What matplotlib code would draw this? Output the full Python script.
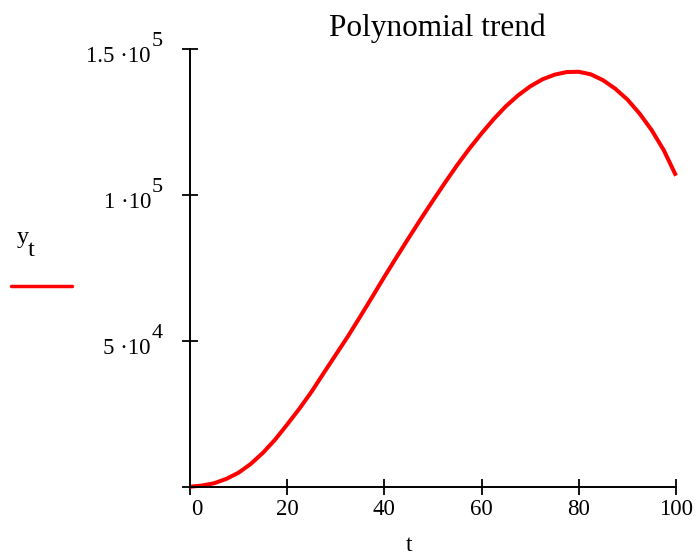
import matplotlib
matplotlib.use("Agg")
import matplotlib.pyplot as plt
from matplotlib.lines import Line2D
import matplotlib.transforms as mtransforms

plt.rcParams['font.family'] = ['Liberation Serif', 'DejaVu Serif']

t_values = [0, 2.5, 5, 7.5, 10, 12.5, 15, 17.5, 20, 22.5, 25, 27.5, 30, 32.5, 35, 37.5, 40,
            42.5, 45, 47.5, 50, 52.5, 55, 57.5, 60, 62.5, 65, 67.5, 70, 72.5, 75, 77.5, 80,
            82.5, 85, 87.5, 90, 92.5, 95, 97.5, 100]
y_values = [0, 400, 1200, 2700, 4800, 7800, 11600, 16100, 21300, 26700, 32500, 38900, 45200,
            51500, 58200, 65000, 71900, 78600, 85200, 91700, 98000, 104200, 110200, 115800,
            121000, 125900, 130300, 134000, 137100, 139500, 141100, 142000, 142100, 141200,
            139200, 136300, 132600, 127800, 122100, 115200, 106500]
x_ticks = [0, 20, 40, 60, 80, 100]
x_tick_labels = ['0', '20', '40', '60', '80', '100']
y_ticks = [0, 50000, 100000, 150000]
y_label_mantissa = ['', '5 \u00b710', '1 \u00b710', '1.5 \u00b710']
y_label_exponent = ['', '4', '5', '5']

W, H = 699, 557
fig = plt.figure(figsize=(W / 100, H / 100), dpi=100)
ax = fig.add_axes([190 / W, (H - 486.7) / H, (676 - 190) / W, 438 / H])

ax.plot(t_values, y_values, color='#ff0000', lw=2.9, solid_capstyle='butt', clip_on=False)
ax.set_xlim(0, 100)
ax.set_ylim(0, 150000)

for s in ['top', 'right']:
    ax.spines[s].set_visible(False)
for s in ['left', 'bottom']:
    ax.spines[s].set_linewidth(1.4)

ax.set_xticks(x_ticks)
ax.set_xticklabels(x_tick_labels)
ax.set_yticks(y_ticks)
ax.set_yticklabels([''] * len(y_ticks))
ax.tick_params(axis='both', direction='inout', length=12, width=1.3, labelsize=16.5)
ax.tick_params(axis='x', pad=3)

# Shift the "0" tick label slightly right as in the reference
lbl0 = ax.get_xticklabels()[0]
lbl0.set_transform(lbl0.get_transform() + mtransforms.ScaledTranslation(7 / 100, 0, fig.dpi_scale_trans))

# Mathcad-style y tick labels with full-size raised exponent
blend = mtransforms.blended_transform_factory(ax.transAxes, ax.transData)
for v, m, e in zip(y_ticks, y_label_mantissa, y_label_exponent):
    if not m:
        continue
    tr_m = blend + mtransforms.ScaledTranslation(-39 / 100, -13 / 100, fig.dpi_scale_trans)
    ax.text(0, v, m, transform=tr_m, ha='right', va='baseline', fontsize=16.5, clip_on=False)
    tr_e = blend + mtransforms.ScaledTranslation(-38 / 100, 3 / 100, fig.dpi_scale_trans)
    ax.text(0, v, e, transform=tr_e, ha='left', va='baseline', fontsize=16, clip_on=False)

fig.text(437 / W, 1 - 36 / H, 'Polynomial trend', ha='center', va='baseline', fontsize=22.5)
fig.text(409 / W, 1 - 556 / H, 't', ha='center', va='bottom', fontsize=17)
fig.text(17 / W, 1 - 243 / H, 'y', ha='left', va='baseline', fontsize=17.5)
fig.text(28 / W, 1 - 256 / H, 't', ha='left', va='baseline', fontsize=17.5)
fig.add_artist(Line2D([11 / W, 72 / W], [1 - 286 / H, 1 - 286 / H], color='#ff0000', lw=2.5,
                      solid_capstyle='round', transform=fig.transFigure))

fig.savefig('out.png', dpi=100)
